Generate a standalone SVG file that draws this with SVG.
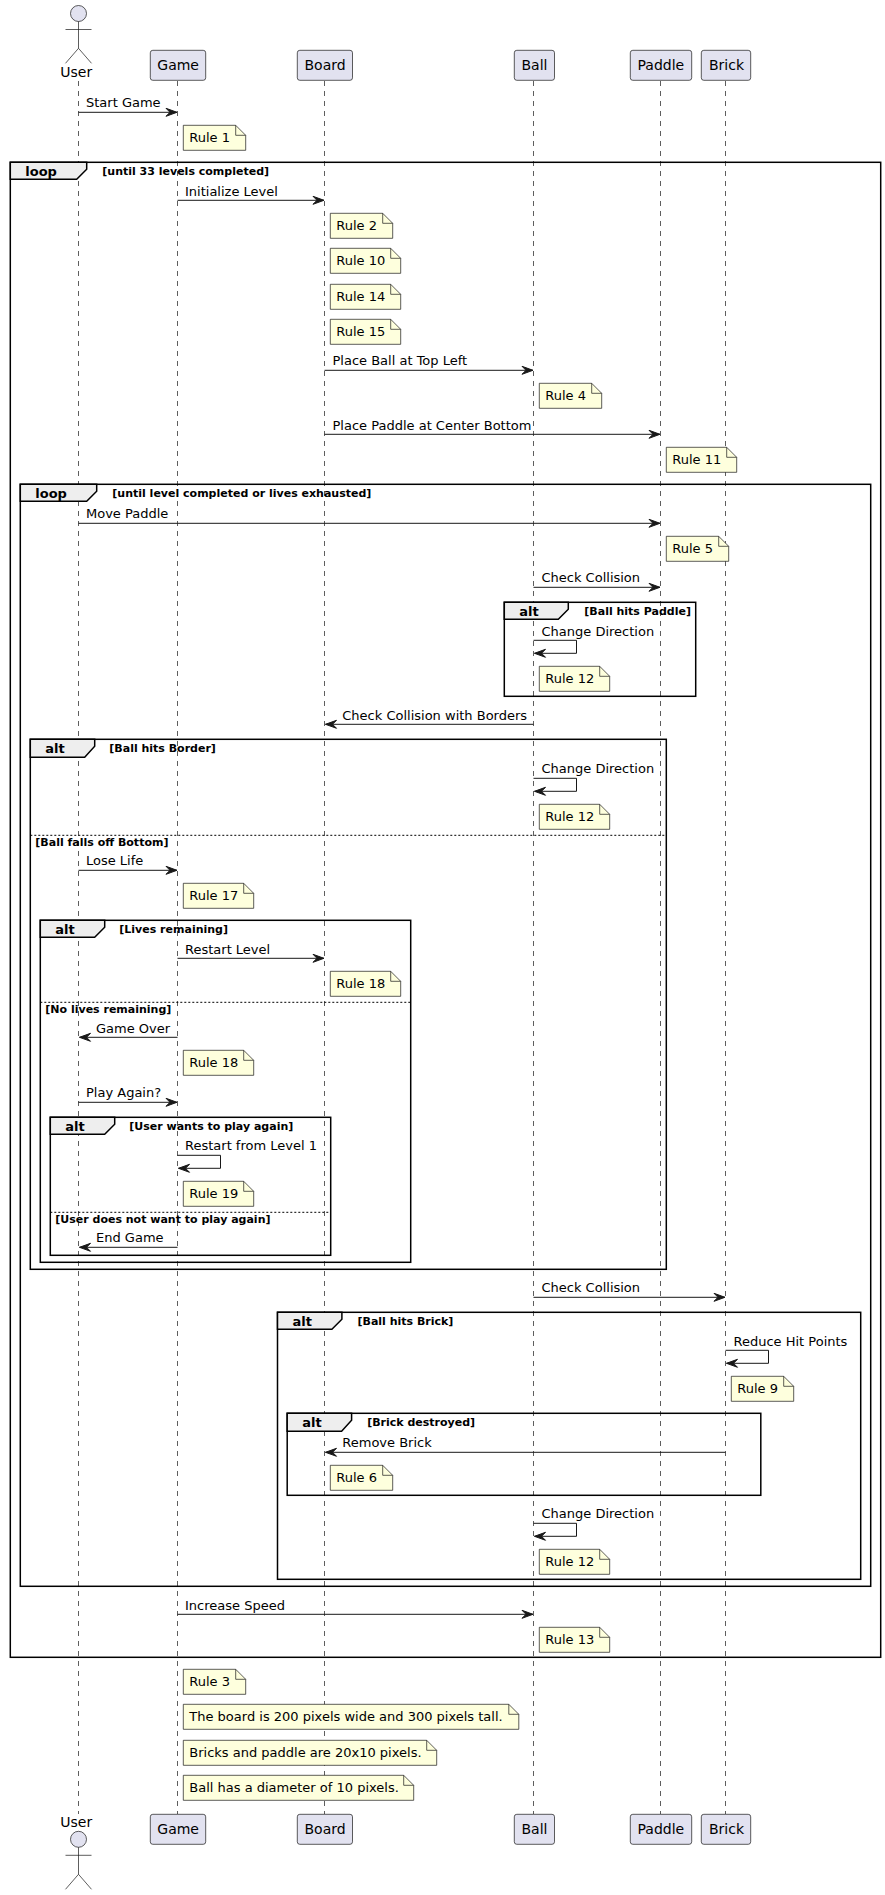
<svg xmlns="http://www.w3.org/2000/svg" width="885" height="1895" viewBox="0 0 885 1895">
<style>
text{font-family:"DejaVu Sans",sans-serif;fill:#000}
.m{font-size:13px}
.p{font-size:14px}
.t{font-size:13px;font-weight:bold}
.g{font-size:11px;font-weight:bold}
.life{stroke:#181818;stroke-width:.7;stroke-dasharray:5,5;fill:none}
.box{fill:#E2E2F0;stroke:#181818;stroke-width:.7}
.act{fill:#E2E2F0;stroke:#181818;stroke-width:.7}
.frame{fill:none;stroke:#000;stroke-width:1.5}
.tab{fill:#EEE;stroke:#000;stroke-width:1.5}
.div{stroke:#000;stroke-width:1;stroke-dasharray:2,2;fill:none}
.note{fill:#FEFFDD;stroke:#181818;stroke-width:.7}
.msg{fill:none;stroke:#181818;stroke-width:1;marker-end:url(#ah)}
</style>
<defs>
<marker id="ah" markerUnits="userSpaceOnUse" markerWidth="16" markerHeight="12" refX="13" refY="6" orient="auto" overflow="visible"><path d="M2,2 L13,6 L2,10 L6,6 Z" fill="#181818" stroke="#181818" stroke-width="1"/></marker>
</defs>
<g id="lifelines">
<path class="life" d="M78.5,81V1814M177.5,81V1814M324.5,81V1814M533.5,81V1814M660.5,81V1814M725.5,81V1814"/>
</g>
<g id="User-top"><circle class="act" cx="78.5" cy="13.5" r="8"/><path class="act" style="fill:none" d="M78.5,21.5V48.3M65.5,29.5H91.5M78.5,48.3L65.5,63.3M78.5,48.3L91.5,63.3"/><text class="p" x="60.3" y="77.3">User</text></g>
<g id="Game-top"><rect class="box" x="150.3" y="50.3" width="55.4" height="30" rx="2.5"/><text class="p" x="157.3" y="70">Game</text></g>
<g id="Board-top"><rect class="box" x="297.3" y="50.3" width="55.2" height="30" rx="2.5"/><text class="p" x="304.5" y="70">Board</text></g>
<g id="Ball-top"><rect class="box" x="514.3" y="50.3" width="40.2" height="30" rx="2.5"/><text class="p" x="521.5" y="70">Ball</text></g>
<g id="Paddle-top"><rect class="box" x="630.3" y="50.3" width="61.4" height="30" rx="2.5"/><text class="p" x="637.5" y="70">Paddle</text></g>
<g id="Brick-top"><rect class="box" x="701.3" y="50.3" width="49.4" height="30" rx="2.5"/><text class="p" x="709" y="70">Brick</text></g>
<g id="User-bottom"><circle class="act" cx="78.5" cy="1839.3" r="8"/><path class="act" style="fill:none" d="M78.5,1847.3V1874.3M65.5,1855.3H91.5M78.5,1874.3L65.5,1889.3M78.5,1874.3L91.5,1889.3"/><text class="p" x="60.3" y="1826.7">User</text></g>
<g id="Game-bottom"><rect class="box" x="150.3" y="1814.3" width="55.4" height="30" rx="2.5"/><text class="p" x="157.3" y="1834">Game</text></g>
<g id="Board-bottom"><rect class="box" x="297.3" y="1814.3" width="55.2" height="30" rx="2.5"/><text class="p" x="304.5" y="1834">Board</text></g>
<g id="Ball-bottom"><rect class="box" x="514.3" y="1814.3" width="40.2" height="30" rx="2.5"/><text class="p" x="521.5" y="1834">Ball</text></g>
<g id="Paddle-bottom"><rect class="box" x="630.3" y="1814.3" width="61.4" height="30" rx="2.5"/><text class="p" x="637.5" y="1834">Paddle</text></g>
<g id="Brick-bottom"><rect class="box" x="701.3" y="1814.3" width="49.4" height="30" rx="2.5"/><text class="p" x="709" y="1834">Brick</text></g>
<g id="frames">
<g id="loop-levels"><rect class="frame" x="10.3" y="162.3" width="870.4" height="1495"/><path class="tab" d="M10.3,162.3H86.7V169.3L76.7,179.3H10.3Z"/><text class="t" x="25.3" y="175.7">loop</text><text class="g" x="102.3" y="175">[until 33 levels completed]</text></g>
<g id="loop-lives"><rect class="frame" x="20.3" y="484.3" width="850.4" height="1102"/><path class="tab" d="M20.3,484.3H96.7V491.3L86.7,501.3H20.3Z"/><text class="t" x="35.3" y="497.7">loop</text><text class="g" x="112.3" y="497">[until level completed or lives exhausted]</text></g>
<g id="alt-paddle"><rect class="frame" x="504.3" y="602.3" width="191.4" height="94"/><path class="tab" d="M504.3,602.3H568.3V609.3L558.3,619.3H504.3Z"/><text class="t" x="519.3" y="615.7">alt</text><text class="g" x="584.3" y="615">[Ball hits Paddle]</text></g>
<g id="alt-border"><rect class="frame" x="30.3" y="739.3" width="636" height="530"/><path class="tab" d="M30.3,739.3H94.7V746.3L84.7,757.3H30.3Z"/><text class="t" x="45.3" y="752.7">alt</text><text class="g" x="109.3" y="752">[Ball hits Border]</text><path class="div" d="M30.3,835.3H666.3"/><text class="g" x="35.3" y="845.7">[Ball falls off Bottom]</text></g>
<g id="alt-lives"><rect class="frame" x="40.3" y="920.3" width="370.4" height="342"/><path class="tab" d="M40.3,920.3H104.7V927.3L94.7,937.3H40.3Z"/><text class="t" x="55.3" y="933.7">alt</text><text class="g" x="119.3" y="933">[Lives remaining]</text><path class="div" d="M40.3,1002.3H410.7"/><text class="g" x="45.3" y="1012.7">[No lives remaining]</text></g>
<g id="alt-again"><rect class="frame" x="50.3" y="1117.3" width="280.4" height="138"/><path class="tab" d="M50.3,1117.3H114.7V1124.3L104.7,1134.3H50.3Z"/><text class="t" x="65.3" y="1130.7">alt</text><text class="g" x="129.3" y="1130">[User wants to play again]</text><path class="div" d="M50.3,1212.3H330.7"/><text class="g" x="55.3" y="1222.7">[User does not want to play again]</text></g>
<g id="alt-brick"><rect class="frame" x="277.5" y="1312.3" width="583.2" height="267"/><path class="tab" d="M277.5,1312.3H341.9V1319.3L331.9,1329.3H277.5Z"/><text class="t" x="292.5" y="1325.7">alt</text><text class="g" x="357.5" y="1325">[Ball hits Brick]</text></g>
<g id="alt-destroyed"><rect class="frame" x="287.2" y="1413.3" width="473.6" height="82"/><path class="tab" d="M287.2,1413.3H351.6V1420.3L341.6,1431.3H287.2Z"/><text class="t" x="302.2" y="1426.7">alt</text><text class="g" x="367.2" y="1426">[Brick destroyed]</text></g>
</g>
<g id="notes">
<g id="note-1"><path class="note" d="M183.3,125.3V150.3H245.7V135.3L235.7,125.3ZM235.7,125.3V135.3H245.7"/><text class="m" x="189.3" y="142.3">Rule 1</text></g>
<g id="note-2"><path class="note" d="M330.3,213.3V238.3H392.7V223.3L382.7,213.3ZM382.7,213.3V223.3H392.7"/><text class="m" x="336.3" y="230.3">Rule 2</text></g>
<g id="note-10"><path class="note" d="M330.3,248.3V273.3H400.7V258.3L390.7,248.3ZM390.7,248.3V258.3H400.7"/><text class="m" x="336.3" y="265.3">Rule 10</text></g>
<g id="note-14"><path class="note" d="M330.3,284.3V309.3H400.7V294.3L390.7,284.3ZM390.7,284.3V294.3H400.7"/><text class="m" x="336.3" y="301.3">Rule 14</text></g>
<g id="note-15"><path class="note" d="M330.3,319.3V344.3H400.7V329.3L390.7,319.3ZM390.7,319.3V329.3H400.7"/><text class="m" x="336.3" y="336.3">Rule 15</text></g>
<g id="note-4"><path class="note" d="M539.3,383.3V408.3H601.7V393.3L591.7,383.3ZM591.7,383.3V393.3H601.7"/><text class="m" x="545.3" y="400.3">Rule 4</text></g>
<g id="note-11"><path class="note" d="M666.3,447.3V472.3H736.7V457.3L726.7,447.3ZM726.7,447.3V457.3H736.7"/><text class="m" x="672.3" y="464.3">Rule 11</text></g>
<g id="note-5"><path class="note" d="M666.3,536.3V561.3H728.7V546.3L718.7,536.3ZM718.7,536.3V546.3H728.7"/><text class="m" x="672.3" y="553.3">Rule 5</text></g>
<g id="note-12a"><path class="note" d="M539.3,666.3V691.3H609.7V676.3L599.7,666.3ZM599.7,666.3V676.3H609.7"/><text class="m" x="545.3" y="683.3">Rule 12</text></g>
<g id="note-12b"><path class="note" d="M539.3,804.3V829.3H609.7V814.3L599.7,804.3ZM599.7,804.3V814.3H609.7"/><text class="m" x="545.3" y="821.3">Rule 12</text></g>
<g id="note-17"><path class="note" d="M183.3,883.3V908.3H253.7V893.3L243.7,883.3ZM243.7,883.3V893.3H253.7"/><text class="m" x="189.3" y="900.3">Rule 17</text></g>
<g id="note-18a"><path class="note" d="M330.3,971.3V996.3H400.7V981.3L390.7,971.3ZM390.7,971.3V981.3H400.7"/><text class="m" x="336.3" y="988.3">Rule 18</text></g>
<g id="note-18b"><path class="note" d="M183.3,1050.3V1075.3H253.7V1060.3L243.7,1050.3ZM243.7,1050.3V1060.3H253.7"/><text class="m" x="189.3" y="1067.3">Rule 18</text></g>
<g id="note-19"><path class="note" d="M183.3,1181.3V1206.3H253.7V1191.3L243.7,1181.3ZM243.7,1181.3V1191.3H253.7"/><text class="m" x="189.3" y="1198.3">Rule 19</text></g>
<g id="note-9"><path class="note" d="M731.3,1376.3V1401.3H793.7V1386.3L783.7,1376.3ZM783.7,1376.3V1386.3H793.7"/><text class="m" x="737.3" y="1393.3">Rule 9</text></g>
<g id="note-6"><path class="note" d="M330.3,1465.3V1490.3H392.7V1475.3L382.7,1465.3ZM382.7,1465.3V1475.3H392.7"/><text class="m" x="336.3" y="1482.3">Rule 6</text></g>
<g id="note-12c"><path class="note" d="M539.3,1549.3V1574.3H609.7V1559.3L599.7,1549.3ZM599.7,1549.3V1559.3H609.7"/><text class="m" x="545.3" y="1566.3">Rule 12</text></g>
<g id="note-13"><path class="note" d="M539.3,1627.3V1652.3H609.7V1637.3L599.7,1627.3ZM599.7,1627.3V1637.3H609.7"/><text class="m" x="545.3" y="1644.3">Rule 13</text></g>
<g id="note-3"><path class="note" d="M183.3,1669.3V1694.3H245.7V1679.3L235.7,1669.3ZM235.7,1669.3V1679.3H245.7"/><text class="m" x="189.3" y="1686.3">Rule 3</text></g>
<g id="note-board"><path class="note" d="M183.3,1704.3V1729.3H518.8V1714.3L508.8,1704.3ZM508.8,1704.3V1714.3H518.8"/><text class="m" x="189.3" y="1721.3">The board is 200 pixels wide and 300 pixels tall.</text></g>
<g id="note-bricks"><path class="note" d="M183.3,1740.3V1765.3H436.7V1750.3L426.7,1740.3ZM426.7,1740.3V1750.3H436.7"/><text class="m" x="189.3" y="1757.3">Bricks and paddle are 20x10 pixels.</text></g>
<g id="note-ball"><path class="note" d="M183.3,1775.3V1800.3H413.7V1785.3L403.7,1775.3ZM403.7,1775.3V1785.3H413.7"/><text class="m" x="189.3" y="1792.3">Ball has a diameter of 10 pixels.</text></g>
</g>
<g id="connectors">
<path class="msg" d="M78.5,112.3H177"/><text class="m" x="86" y="107">Start Game</text>
<path class="msg" d="M177.5,200.3H324"/><text class="m" x="185" y="196">Initialize Level</text>
<path class="msg" d="M324.5,370.3H533"/><text class="m" x="332.5" y="365">Place Ball at Top Left</text>
<path class="msg" d="M324.5,434.3H660"/><text class="m" x="332.5" y="430">Place Paddle at Center Bottom</text>
<path class="msg" d="M78.5,523.3H660"/><text class="m" x="86" y="518">Move Paddle</text>
<path class="msg" d="M533.5,587.3H660"/><text class="m" x="541.5" y="582">Check Collision</text>
<path class="msg" d="M533.5,640.3H576.5V653.3H534.5"/><text class="m" x="541.5" y="636">Change Direction</text>
<path class="msg" d="M533.5,724.3H325.5"/><text class="m" x="342.3" y="720">Check Collision with Borders</text>
<path class="msg" d="M533.5,778.3H576.5V791.3H534.5"/><text class="m" x="541.5" y="773">Change Direction</text>
<path class="msg" d="M78.5,870.3H177"/><text class="m" x="86" y="865">Lose Life</text>
<path class="msg" d="M177.5,958.3H324"/><text class="m" x="185" y="954">Restart Level</text>
<path class="msg" d="M177.5,1037.3H79.5"/><text class="m" x="96" y="1033">Game Over</text>
<path class="msg" d="M78.5,1102.3H177"/><text class="m" x="86" y="1097">Play Again?</text>
<path class="msg" d="M177.5,1155.3H220.5V1168.3H178.5"/><text class="m" x="185" y="1150">Restart from Level 1</text>
<path class="msg" d="M177.5,1247.3H79.5"/><text class="m" x="96" y="1242">End Game</text>
<path class="msg" d="M533.5,1297.3H725"/><text class="m" x="541.5" y="1292">Check Collision</text>
<path class="msg" d="M725.5,1350.3H768.5V1363.3H726.5"/><text class="m" x="733.5" y="1346">Reduce Hit Points</text>
<path class="msg" d="M725.5,1452.3H325.5"/><text class="m" x="342.3" y="1447">Remove Brick</text>
<path class="msg" d="M533.5,1523.3H576.5V1536.3H534.5"/><text class="m" x="541.5" y="1518">Change Direction</text>
<path class="msg" d="M177.5,1614.3H533"/><text class="m" x="185" y="1610">Increase Speed</text>
</g>
</svg>
